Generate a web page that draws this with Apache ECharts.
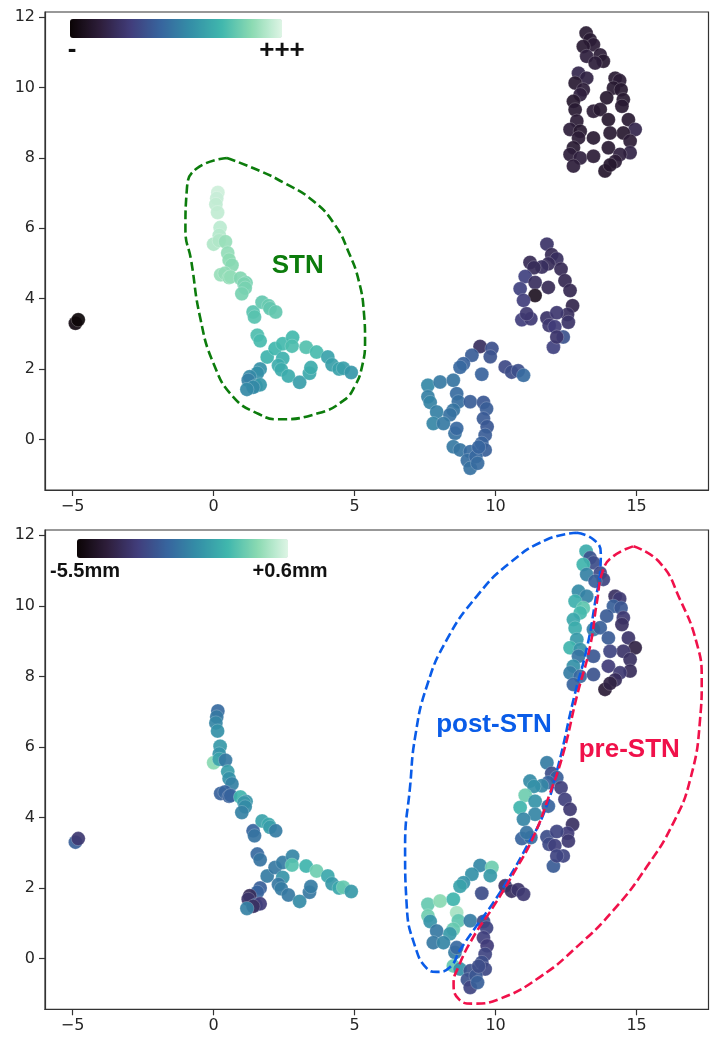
<!DOCTYPE html>
<html>
<head>
<meta charset="utf-8">
<script src="https://cdn.jsdelivr.net/npm/echarts@6/dist/echarts.min.js"></script>
<style>html,body{margin:0;padding:0;background:#fff}#c{width:710px;height:1039px}</style>
</head>
<body>
<div id="c"></div>
<script>
// Each point: [umap x, umap y, top score (0..1, "-" .. "+++"), depth (mm)]
const outlierPts = [
  [-4.90, 3.30, 0.03, -3.0], [-4.80, 3.40, 0.01, -3.9]
];
const stnArm = [
  [0.15,7.02,0.97,-2.76],[0.11,6.85,0.96,-2.5],[0.08,6.68,0.95,-2.2],[0.14,6.45,0.95,-2.0],
  [0.23,6.02,0.94,-1.8],[0.20,5.80,0.93,-1.9],[0.00,5.55,0.92,-0.3],[0.20,5.65,0.92,-1.6],
  [0.42,5.62,0.88,-2.5],[0.50,5.30,0.87,-1.7],[0.55,5.10,0.86,-2.0],[0.65,4.95,0.85,-2.3],
  [0.25,4.68,0.88,-2.95],[0.40,4.72,0.87,-2.9],[0.55,4.60,0.86,-3.0],[0.60,4.62,0.87,-2.9],
  [0.95,4.58,0.84,-1.2],[1.15,4.45,0.82,-1.9],[1.08,4.42,0.83,-1.8],[1.12,4.30,0.82,-2.1],
  [1.00,4.14,0.82,-2.3],[1.40,3.62,0.76,-2.9],[1.45,3.48,0.76,-2.6],[1.72,3.90,0.78,-1.6],
  [1.95,3.80,0.79,-1.5],[2.00,3.72,0.78,-1.7],[2.20,3.62,0.78,-2.4],[1.55,2.96,0.74,-2.8],
  [1.65,2.80,0.73,-2.6],[1.90,2.34,0.70,-2.4],[2.18,2.58,0.71,-2.5],[2.45,2.72,0.72,-2.4],
  [2.80,2.90,0.72,-2.2],[2.78,2.65,0.74,-0.9],[2.45,2.30,0.69,-1.9],[2.30,2.10,0.68,-2.5],
  [2.40,1.98,0.67,-2.4],[2.65,1.80,0.67,-2.5],[3.05,1.62,0.62,-2.1],[3.40,1.88,0.66,-2.5],
  [3.45,2.04,0.67,-2.4],[3.28,2.62,0.75,-1.2],[3.65,2.48,0.73,-0.6],[4.05,2.34,0.64,-1.5],
  [4.20,2.12,0.63,-1.8],[4.45,2.00,0.64,-1.5],[4.60,2.02,0.63,-0.7],[4.88,1.90,0.60,-1.8],
  [1.65,2.00,0.58,-3.0],[1.55,1.88,0.57,-2.9],[1.28,1.78,0.55,-4.2],[1.23,1.68,0.52,-4.0],
  [1.50,1.52,0.58,-3.0],[1.65,1.55,0.60,-3.8],[1.40,1.48,0.55,-4.1],[1.18,1.42,0.55,-2.3]
];
const lowCluster = [
  [9.45,2.64,0.22,-2.15],[9.87,2.58,0.35,-0.6],[9.81,2.35,0.36,-1.8],[9.16,2.39,0.40,-2.0],
  [8.86,2.15,0.42,-1.9],[8.74,2.05,0.44,-1.6],[9.51,1.85,0.42,-3.4],[10.34,2.06,0.33,-4.0],
  [10.57,1.91,0.34,-4.1],[10.80,1.95,0.35,-4.0],[10.99,1.82,0.45,-3.9],[7.60,1.54,0.55,-0.7],
  [8.03,1.63,0.50,-0.3],[8.50,1.68,0.48,-1.2],[7.60,1.21,0.52,-0.6],[7.68,1.05,0.53,-1.9],
  [8.62,1.30,0.45,0.0],[8.68,1.07,0.46,-0.8],[9.10,1.07,0.40,-2.4],[9.57,1.05,0.38,-3.4],
  [9.68,0.87,0.40,-3.6],[7.91,0.78,0.52,-2.5],[8.50,0.83,0.48,-0.7],[8.38,0.70,0.47,-1.8],
  [7.79,0.45,0.54,-2.5],[8.15,0.45,0.50,-2.2],[8.56,0.17,0.47,-2.4],[8.62,0.31,0.44,-2.8],
  [9.57,0.59,0.39,-3.7],[9.70,0.36,0.38,-3.8],[9.63,0.12,0.40,-3.6],[9.51,-0.11,0.42,-3.4],
  [9.63,-0.30,0.41,-3.5],[8.50,-0.21,0.50,-0.7],[8.74,-0.30,0.48,-2.0],[9.10,-0.35,0.45,-3.3],
  [9.00,-0.60,0.46,-3.3],[9.10,-0.82,0.47,-3.6],[9.30,-0.49,0.44,-3.2],[9.36,-0.68,0.45,-3.0],
  [9.40,-0.22,0.43,-3.4]
];
const midCluster = [
  [11.82,5.55,0.24,-2.4],[11.99,5.25,0.20,-3.4],[12.17,5.13,0.22,-3.0],[11.87,4.99,0.21,-2.9],
  [11.64,4.90,0.22,-2.2],[11.22,5.03,0.20,-2.1],[11.36,4.88,0.21,-2.0],[12.32,4.84,0.20,-3.7],
  [11.05,4.63,0.30,-0.6],[11.40,4.46,0.22,-1.9],[10.87,4.28,0.30,-1.2],[11.40,4.09,0.08,-2.2],
  [11.87,4.32,0.20,-2.9],[12.46,4.51,0.19,-3.7],[12.64,4.23,0.19,-3.9],[10.99,3.95,0.29,-2.2],
  [12.73,3.80,0.18,-4.1],[12.55,3.55,0.22,-3.8],[10.93,3.40,0.29,-2.9],[11.25,3.43,0.27,-2.7],
  [11.10,3.57,0.26,-2.6],[11.82,3.45,0.24,-3.4],[12.17,3.60,0.26,-3.6],[12.58,3.33,0.24,-3.9],
  [11.90,3.24,0.26,-3.5],[12.10,3.20,0.28,-3.7],[12.40,2.91,0.36,-3.6],[12.05,2.62,0.30,-3.1],
  [12.17,2.91,0.25,-3.6]
];
const topCluster = [
  [13.21,11.55,0.12,-1.4],[13.35,11.36,0.12,-3.3],[13.47,11.22,0.13,-3.4],[13.11,11.17,0.12,-1.2],
  [13.23,10.89,0.15,-2.3],[13.71,10.93,0.13,-3.5],[13.82,10.75,0.12,-3.6],[13.53,10.70,0.14,-3.0],
  [12.94,10.41,0.18,-2.1],[13.23,10.27,0.16,-2.3],[12.82,10.13,0.12,-1.3],[13.11,9.94,0.14,-0.8],
  [13.00,9.80,0.15,-1.1],[14.24,10.27,0.12,-4.1],[14.40,10.20,0.13,-3.9],[14.18,9.99,0.12,-3.0],
  [14.45,9.94,0.12,-3.2],[13.94,9.71,0.11,-3.1],[14.53,9.66,0.12,-3.9],[12.76,9.61,0.11,-1.5],
  [12.82,9.37,0.12,-1.4],[14.48,9.47,0.12,-4.1],[13.47,9.33,0.13,-2.4],[13.71,9.38,0.12,-3.0],
  [14.00,9.09,0.11,-3.1],[14.71,9.09,0.12,-4.0],[14.95,8.81,0.18,-4.5],[12.88,9.05,0.13,-1.8],
  [12.64,8.81,0.14,-1.2],[13.00,8.76,0.12,-1.9],[14.53,8.71,0.11,-4.0],[14.06,8.71,0.12,-3.6],
  [13.47,8.57,0.12,-3.2],[12.94,8.57,0.13,-2.6],[14.77,8.48,0.13,-4.1],[12.76,8.29,0.12,-2.0],
  [14.00,8.29,0.12,-3.8],[12.64,8.10,0.14,-2.4],[14.77,8.15,0.17,-4.2],[13.00,8.00,0.15,-2.8],
  [13.47,8.05,0.13,-3.3],[14.41,8.10,0.15,-3.9],[14.24,7.90,0.13,-4.2],[12.76,7.77,0.14,-2.9],
  [13.88,7.63,0.10,-4.7],[14.06,7.80,0.11,-4.5]
];
// Dashed annotation outlines (data coordinates)
const stnOutline = [[0.47,8.0],[1.65,7.63],[2.48,7.30],[3.5,6.8],[4.3,6.1],[4.8,5.3],[5.15,4.5],[5.33,3.6],[5.37,2.8],[5.26,2.06],[5.0,1.5],[4.6,1.1],[3.7,0.74],[2.3,0.57],[1.6,0.72],[0.7,1.2],[0.0,2.15],[-0.48,3.47],[-0.8,5.1],[-1.0,5.95],[-0.95,7.1],[-0.6,7.7],[0.47,8.0]];
const postOutline = [[12.88,12.07],[13.47,11.88],[13.73,11.5],[13.71,11.0],[13.55,10.2],[13.25,8.85],[12.78,7.4],[12.2,5.4],[11.7,4.1],[11.1,3.17],[10.5,2.32],[9.9,1.56],[9.3,0.9],[8.74,0.24],[8.39,-0.24],[7.91,-0.38],[7.56,-0.28],[7.15,0.33],[6.85,1.47],[6.79,3.17],[6.97,4.9],[7.15,6.3],[7.56,7.72],[8.27,9.04],[9.33,10.27],[10.51,11.22],[11.82,11.88],[12.88,12.07]];
const preOutline = [[14.89,11.69],[15.83,11.22],[16.54,10.18],[17.13,8.95],[17.31,7.91],[17.25,6.77],[16.9,5.07],[16.3,3.84],[15.36,2.6],[14.18,1.37],[12.88,0.33],[11.58,-0.52],[10.16,-1.14],[9.2,-1.28],[8.68,-1.14],[8.51,-0.71],[8.68,-0.24],[9.21,0.61],[9.92,1.47],[10.63,2.41],[11.34,3.45],[11.93,4.69],[12.4,5.82],[12.88,7.43],[13.35,8.85],[13.59,10.09],[13.82,11.03],[14.18,11.41],[14.89,11.69]];
const topLabels = [{name:'STN', pos:[2.98,4.94], color:'#0c7c0c'}];
const bottomLabels = [{name:'post-STN', pos:[9.94,6.62], color:'#0a5ce8'},{name:'pre-STN', pos:[14.74,5.92], color:'#f0114a'}];
const xTicks = [-5,0,5,10,15];
const yTicks = [0,2,4,6,8,10,12];
const topRange = [0,1], topRangeText = ['-','+++'];
const depthRange = [-5.5,0.6], depthRangeText = ['-5.5mm','+0.6mm'];
const mako = ['#0B0405','#2E1E3B','#413D7B','#37659E','#348FA7','#40B7AD','#8BDAB2','#DEF5E5'];

const allPts = outlierPts.concat(stnArm, lowCluster, midCluster, topCluster);
const topData = allPts.map(p => [p[0], p[1], p[2]]);
const botData = allPts.map(p => [p[0], p[1], p[3]]);

const fmt = v => v < 0 ? '\u2212' + Math.abs(v) : String(v);
function mkX(gi){ return {type:'value', gridIndex:gi, min:-5.98, max:17.55,
  axisLine:{show:true, onZero:false, lineStyle:{color:'#333', width:1.2}},
  axisTick:{show:true, length:6, customValues:xTicks, lineStyle:{color:'#333', width:1.2}},
  axisLabel:{customValues:xTicks, formatter:fmt, fontFamily:'DejaVu Sans', fontSize:16, color:'#262626', margin:9},
  splitLine:{show:false}}; }
function mkY(gi){ return {type:'value', gridIndex:gi, min:-1.44, max:12.15,
  axisLine:{show:true, onZero:false, lineStyle:{color:'#333', width:1.2}},
  axisTick:{show:true, length:6, customValues:yTicks, lineStyle:{color:'#333', width:1.2}},
  axisLabel:{customValues:yTicks, formatter:fmt, fontFamily:'DejaVu Sans', fontSize:16, color:'#262626', margin:10},
  splitLine:{show:false}}; }
function outline(data, xi, color){ return {type:'line', xAxisIndex:xi, yAxisIndex:xi, data:data, smooth:0.5,
  symbol:'none', silent:true, z:5, lineStyle:{color:color, width:2.6, opacity:1, type:[9,4]}}; }
function labels(list, xi, size){ return {type:'scatter', xAxisIndex:xi, yAxisIndex:xi, symbolSize:0, z:6, silent:true,
  itemStyle:{opacity:1},
  data:list.map(l => ({name:l.name, value:l.pos, label:{color:l.color}})),
  label:{show:true, opacity:1, position:'inside', formatter:'{b}', fontFamily:'Liberation Sans', fontWeight:'bold', fontSize:size}}; }
const scatterStyle = {opacity:0.92, borderColor:'rgba(255,255,255,0.45)', borderWidth:0.5};

const chart = echarts.init(document.getElementById('c'), null, {renderer:'canvas'});
chart.setOption({
  animation:false,
  backgroundColor:'#fff',
  grid:[{left:45, top:12, width:663.5, height:478, show:true, borderColor:'#333', borderWidth:1.2},
        {left:45, top:530, width:663.5, height:479.3, show:true, borderColor:'#333', borderWidth:1.2}],
  xAxis:[mkX(0), mkX(1)],
  yAxis:[mkY(0), mkY(1)],
  visualMap:[
    {type:'continuous', seriesIndex:0, dimension:2, min:topRange[0], max:topRange[1], orient:'horizontal',
     left:70, top:19, itemWidth:19, itemHeight:212, padding:0, calculable:false, hoverLink:false,
     inRange:{color:mako}},
    {type:'continuous', seriesIndex:1, dimension:2, min:depthRange[0], max:depthRange[1], orient:'horizontal',
     left:77, top:539, itemWidth:19, itemHeight:211, padding:0, calculable:false, hoverLink:false,
     inRange:{color:mako}}
  ],
  series:[
    {type:'scatter', xAxisIndex:0, yAxisIndex:0, data:topData, symbolSize:14, itemStyle:scatterStyle},
    {type:'scatter', xAxisIndex:1, yAxisIndex:1, data:botData, symbolSize:14, itemStyle:scatterStyle},
    outline(stnOutline, 0, '#0c7c0c'),
    outline(postOutline, 1, '#0a5ce8'),
    outline(preOutline, 1, '#f0114a'),
    labels(topLabels, 0, 26),
    labels(bottomLabels, 1, 26)
  ],
  graphic:[
    {type:'text', x:72, y:50, style:{text:topRangeText[0], font:'bold 26px "Liberation Sans"', fill:'#111', align:'center', verticalAlign:'middle'}},
    {type:'text', x:282, y:51, style:{text:topRangeText[1], font:'bold 26px "Liberation Sans"', fill:'#111', align:'center', verticalAlign:'middle'}},
    {type:'text', x:85, y:571, style:{text:depthRangeText[0], font:'bold 20px "Liberation Sans"', fill:'#111', align:'center', verticalAlign:'middle'}},
    {type:'text', x:290, y:571, style:{text:depthRangeText[1], font:'bold 20px "Liberation Sans"', fill:'#111', align:'center', verticalAlign:'middle'}}
  ]
});
</script>
</body>
</html>
